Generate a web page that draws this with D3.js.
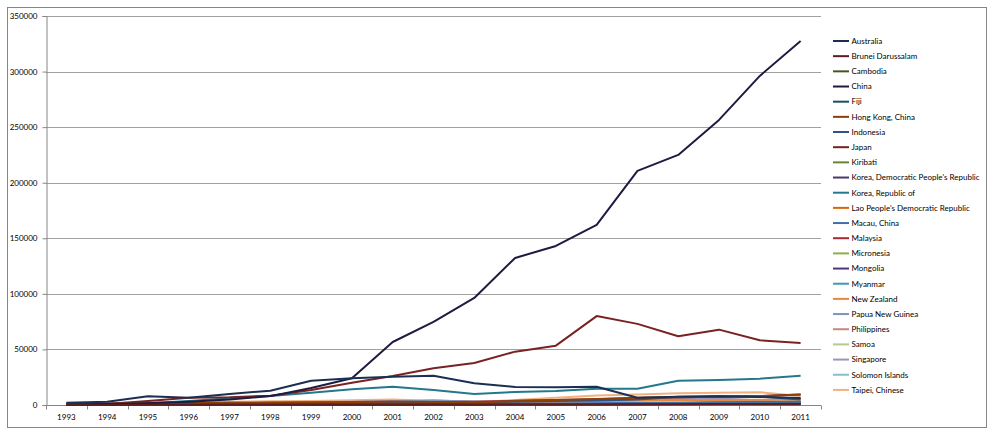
<!DOCTYPE html>
<html>
<head>
<meta charset="utf-8">
<script src="https://cdn.jsdelivr.net/npm/d3@7"></script>
<style>
  html, body { margin: 0; padding: 0; background: #fff; }
  svg { display: block; }
  text { font-family: Lato, "Open Sans", sans-serif; fill: #000; }
</style>
</head>
<body>
<svg id="chart" width="999" height="441"></svg>
<script>
const years = ["1993","1994","1995","1996","1997","1998","1999","2000","2001","2002","2003","2004","2005","2006","2007","2008","2009","2010","2011"];
const yTicks = [0,50000,100000,150000,200000,250000,300000,350000];

const seriesNames = ["Australia","Brunei Darussalam","Cambodia","China","Fiji","Hong Kong, China","Indonesia","Japan","Kiribati","Korea, Democratic People's Republic","Korea, Republic of","Lao People's Democratic Republic","Macau, China","Malaysia","Micronesia","Mongolia","Myanmar","New Zealand","Papua New Guinea","Philippines","Samoa","Singapore","Solomon Islands","Taipei, Chinese"];

const seriesColors = ["#1B2F52","#5A1E1E","#445522","#1E1B40","#1A4F5C","#8A4008","#2E5385","#7A2222","#6B8535","#4A3868","#24788C","#D9640A","#3F70A8","#A82A2A","#8DAE4C","#4A3878","#3E9AB2","#E8883A","#7F95B5","#C98583","#B5C98F","#9E94B5","#86BFCE","#F2B080"];

const australia   = [2100,3000,7800,6600,9900,12900,21900,24000,25500,26400,19500,16200,15900,16500,6600,7500,7800,7200,6300];
const brunei      = [100,100,150,150,200,200,250,300,300,350,300,400,450,500,600,700,800,900,1000];
const cambodia    = [50,60,80,100,120,150,180,200,250,300,350,400,500,600,700,800,900,1000,1100];
const china       = [500,800,1500,3000,5000,8000,15300,24000,56700,74700,96300,132300,143100,162000,210600,225000,256500,296100,327600];
const fiji        = [200,200,250,250,300,300,350,350,400,400,350,400,450,500,550,600,600,650,700];
const hongKong    = [1000,1200,1500,1800,2000,2200,2500,2800,3200,2800,2200,3500,4500,5500,6500,7000,7500,8000,9500];
const indonesia   = [200,300,400,500,600,800,1000,1200,1500,2000,2500,3000,3500,4000,5000,7500,7800,7500,5000];
const japan       = [400,1000,3500,6600,7000,8400,13500,20100,26100,33000,37800,48000,53400,80000,73000,61800,67800,58200,55800];
const kiribati    = [20,20,30,30,40,40,50,50,60,60,70,70,80,80,90,90,100,100,110];
const koreaDPR    = [100,100,150,150,200,200,250,300,300,350,400,450,500,550,600,650,700,750,800];
const koreaRep    = [300,800,1500,3500,6000,8100,11000,14100,16500,13500,9900,11700,12600,14700,14700,21900,22500,23700,26400];
const lao         = [50,60,80,100,120,150,180,200,250,300,350,400,450,500,600,700,800,900,1000];
const macau       = [300,350,400,450,500,550,600,700,800,900,1000,1200,1400,1600,1800,2000,2200,2400,2600];
const malaysia    = [300,400,500,600,800,1000,1300,1600,2000,2500,3000,3800,4500,5200,6300,7000,7500,8000,9500];
const micronesia  = [20,20,30,30,40,40,50,50,60,60,70,70,80,80,90,90,100,100,110];
const mongolia    = [100,120,150,200,250,300,350,400,500,600,700,800,1000,1200,1500,1800,2100,2400,2700];
const myanmar     = [100,120,150,180,200,250,300,350,400,450,500,600,700,800,900,1000,1100,1200,1300];
const newZealand  = [800,900,1000,1200,1400,1600,1800,2000,2200,2000,1800,2500,3000,3500,4000,4200,4500,4800,5000];
const png         = [800,900,1000,1100,1200,1300,1500,2000,2800,4000,3000,2500,3000,3500,4000,4500,3500,2500,4000];
const philippines = [200,250,300,350,400,450,500,600,700,800,900,1000,1200,1400,1600,1800,2000,2200,2400];
const samoa       = [30,30,40,40,50,50,60,60,70,70,80,80,90,90,100,100,110,110,120];
const singapore   = [1500,1600,1800,2000,2200,2400,2600,3000,3500,4000,3200,3500,4000,4500,5000,5500,6000,4000,6000];
const solomon     = [30,30,40,40,50,50,60,60,70,70,80,80,90,90,100,100,110,110,120];
const taipei      = [1500,1800,2200,2600,3000,3300,3600,4200,5000,3500,2500,4500,6500,8500,9500,10500,11000,11500,8000];

const seriesValues = [australia,brunei,cambodia,china,fiji,hongKong,indonesia,japan,kiribati,koreaDPR,koreaRep,lao,macau,malaysia,micronesia,mongolia,myanmar,newZealand,png,philippines,samoa,singapore,solomon,taipei];

const series = seriesNames.map((name, i) => ({ name, color: seriesColors[i], values: seriesValues[i] }));

const svg = d3.select("#chart");
const plot = { left: 46, right: 821, top: 16, bottom: 405 };

// outer border
svg.append("rect")
  .attr("x", 7.5).attr("y", 7.5).attr("width", 979).attr("height", 420)
  .attr("fill", "#fff").attr("stroke", "#868686").attr("stroke-width", 1);

const x = d3.scalePoint().domain(years).range([plot.left, plot.right]).padding(0.5);
const xb = d3.scaleBand().domain(years).range([plot.left, plot.right]);
const y = d3.scaleLinear().domain([0, 350000]).range([plot.bottom, plot.top]);

// gridlines
svg.append("g").selectAll("line").data(yTicks.filter(d => d > 0)).join("line")
  .attr("x1", plot.left).attr("x2", plot.right)
  .attr("y1", d => Math.round(y(d)) + 0.5).attr("y2", d => Math.round(y(d)) + 0.5)
  .attr("stroke", "#a0a0a0").attr("stroke-width", 1);

// y axis
const yAxis = svg.append("g").attr("transform", `translate(${plot.left + 0.5},0)`)
  .call(d3.axisLeft(y).tickValues(yTicks).tickSize(4).tickPadding(5).tickFormat(d3.format("d")));
yAxis.select(".domain").attr("stroke", "#868686");
yAxis.selectAll(".tick line").attr("stroke", "#868686");
yAxis.selectAll(".tick text").attr("fill", "#000").style("font-size", "8px").style("font-family", "Lato, sans-serif");

// x axis
const xAxisG = svg.append("g").attr("transform", `translate(0,${plot.bottom + 0.5})`);
xAxisG.append("line").attr("x1", plot.left).attr("x2", plot.right).attr("stroke", "#868686");
const bounds = years.map(d => xb(d)).concat([plot.right]);
xAxisG.selectAll("line.tk").data(bounds).join("line").attr("class", "tk")
  .attr("x1", d => Math.round(d) + 0.5).attr("x2", d => Math.round(d) + 0.5)
  .attr("y1", 0).attr("y2", 4).attr("stroke", "#868686");
xAxisG.selectAll("text").data(years).join("text")
  .attr("x", d => x(d)).attr("y", 14)
  .attr("text-anchor", "middle")
  .attr("fill", "#000")
  .style("font-size", "8px")
  .text(d => d);

// lines
const line = d3.line().x((d, i) => x(years[i])).y(d => y(d));
svg.append("g").selectAll("path").data(series.slice().reverse()).join("path")
  .attr("d", d => line(d.values))
  .attr("fill", "none")
  .attr("stroke", d => d.color)
  .attr("stroke-width", 2)
  .attr("stroke-linejoin", "round");

// legend
const legend = svg.append("g");
const items = legend.selectAll("g").data(series).join("g")
  .attr("transform", (d, i) => `translate(833, ${41 + i * 15.17})`);
items.append("line").attr("x1", 0).attr("x2", 16).attr("y1", 0).attr("y2", 0)
  .attr("stroke", d => d.color).attr("stroke-width", 2);
items.append("text").attr("x", 18.5).attr("y", 0).attr("dy", "0.35em")
  .attr("fill", "#000")
  .style("font-size", "8px")
  .text(d => d.name);
</script>
</body>
</html>
